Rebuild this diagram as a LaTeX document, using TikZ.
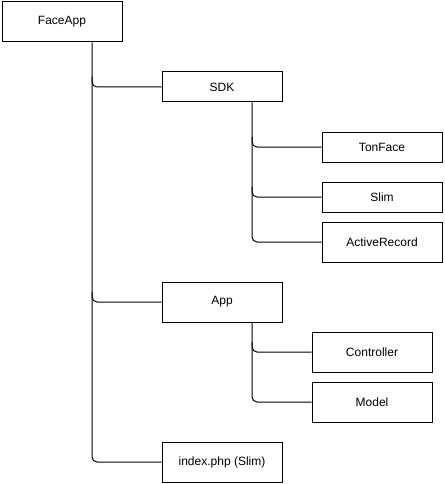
\documentclass[tikz,border=0pt]{standalone}
\usepackage{fontspec}
\setmainfont{Liberation Sans}
\begin{document}
\begin{tikzpicture}[x=1pt,y=-1pt,
  box/.style={draw,line width=1pt,minimum width=120pt,minimum height=40pt,inner sep=0pt,font=\fontsize{12pt}{14pt}\selectfont},
  sbox/.style={box,minimum height=30pt},
  conn/.style={draw,line width=1pt,rounded corners=5pt}]
\useasboundingbox[fill=white] (0,0) rectangle (444,484);
\node[box]  (face) at (62,22) {FaceApp};
\node[sbox] (sdk)  at (222,87) {SDK};
\node[sbox] (ton)  at (382,147) {TonFace};
\node[sbox] (slim) at (382,197) {Slim};
\node[box]  (ar)   at (382,242) {ActiveRecord};
\node[box]  (app)  at (222,302) {App};
\node[box]  (ctl)  at (372,352) {Controller};
\node[box]  (mod)  at (372,402) {Model};
\node[box]  (idx)  at (222,462) {index.php (Slim)};
\coordinate (ft) at ([xshift=30pt]face.south);
\coordinate (st) at ([xshift=30pt]sdk.south);
\coordinate (at) at ([xshift=30pt]app.south);
\draw[conn] (ft) |- (idx.west);
\draw[conn] ([yshift=10pt]ft |- sdk.west) |- (sdk.west);
\draw[conn] ([yshift=10pt]ft |- app.west) |- (app.west);
\draw[conn] (st) |- (ar.west);
\draw[conn] ([yshift=10pt]st |- ton.west) |- (ton.west);
\draw[conn] ([yshift=10pt]st |- slim.west) |- (slim.west);
\draw[conn] (at) |- (mod.west);
\draw[conn] ([yshift=10pt]at |- ctl.west) |- (ctl.west);
\end{tikzpicture}
\end{document}
